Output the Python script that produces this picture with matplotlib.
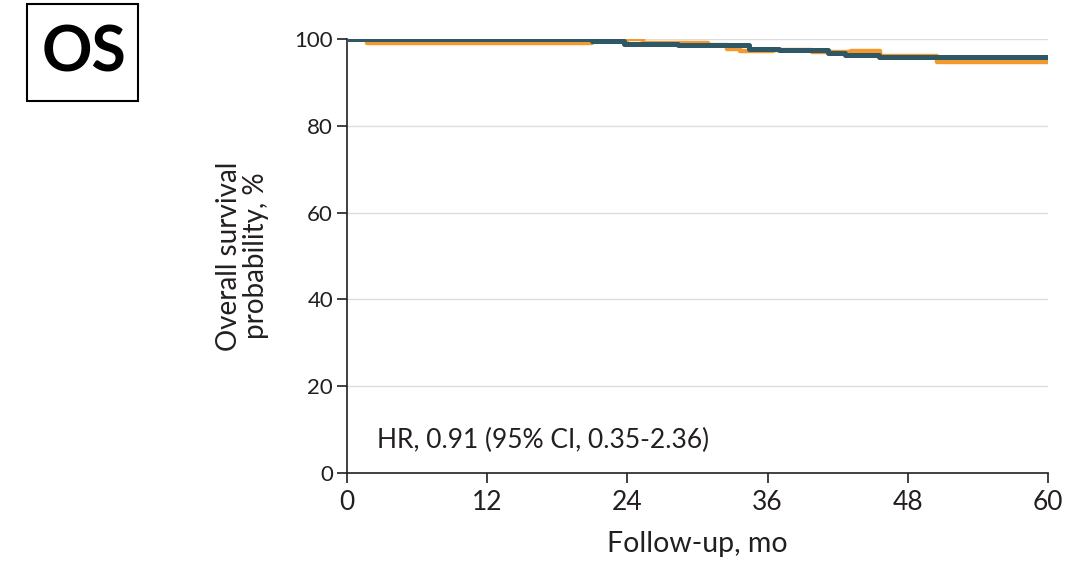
import matplotlib.pyplot as plt
from matplotlib.patches import Rectangle

plt.rcParams['font.family'] = ['Lato', 'DejaVu Sans']

# Kaplan-Meier steps (months, survival %)
teal_t = [0, 21.0, 23.7, 28.3, 34.4, 37.0, 41.2, 42.6, 45.5, 60]
teal_s = [100, 99.6, 98.85, 98.5, 97.8, 97.5, 96.8, 96.3, 95.9, 95.9]

orange_t = [0, 1.7, 21.0, 24.0, 25.3, 28.7, 30.9, 32.5, 33.6, 36.5, 39.8, 40.8,
            43.1, 45.6, 50.5, 60]
orange_s = [100, 99.1, 99.6, 99.9, 99.0, 99.15, 98.5, 97.6, 97.3, 97.5, 96.9,
            97.0, 97.3, 96.0, 94.65, 94.65]

xticks = [0, 12, 24, 36, 48, 60]
yticks = [0, 20, 40, 60, 80, 100]

teal = '#2f5866'
orange = '#f39a2e'
txt = '#231f20'

fig = plt.figure(figsize=(10.83, 5.64), dpi=100)
ax = fig.add_axes([0.3204, 0.1613, 0.6473, 0.7696])

for y in yticks[1:]:
    ax.axhline(y, color='#dcdcdc', lw=1, zorder=0)

ax.step(orange_t, orange_s, where='post', color=orange, lw=3.2, zorder=2)
ax.step(teal_t, teal_s, where='post', color=teal, lw=3.6, zorder=3)

ax.set_xlim(0, 60)
ax.set_ylim(0, 100)
ax.set_xticks(xticks)
ax.set_yticks(yticks)
ax.tick_params(axis='both', direction='out', length=7, width=1.2, color=txt,
               labelcolor=txt)
ax.tick_params(axis='x', labelsize=19, pad=5)
ax.tick_params(axis='y', labelsize=16, pad=3)
for s in ['top', 'right']:
    ax.spines[s].set_visible(False)
for s in ['left', 'bottom']:
    ax.spines[s].set_color(txt)
    ax.spines[s].set_linewidth(1.2)

ax.set_xlabel('Follow-up, mo', fontsize=20.5, color=txt, labelpad=12)
ax.set_ylabel('Overall survival\nprobability, %', fontsize=20, color=txt,
              labelpad=18, linespacing=1.05)

ax.text(2.6, 7.6, 'HR, 0.91 (95% CI, 0.35-2.36)', fontsize=19, color=txt,
        va='center', ha='left')

# OS badge
fig.patches.append(Rectangle((27 / 1083, 1 - 101 / 564), 111 / 1083, 97 / 564,
                             transform=fig.transFigure, fill=False,
                             edgecolor='black', lw=1.5))
fig.text(84 / 1083, 1 - 54 / 564, 'OS', fontsize=45, fontweight='bold',
         ha='center', va='center', color='black')

fig.savefig('out.png', dpi=100)
